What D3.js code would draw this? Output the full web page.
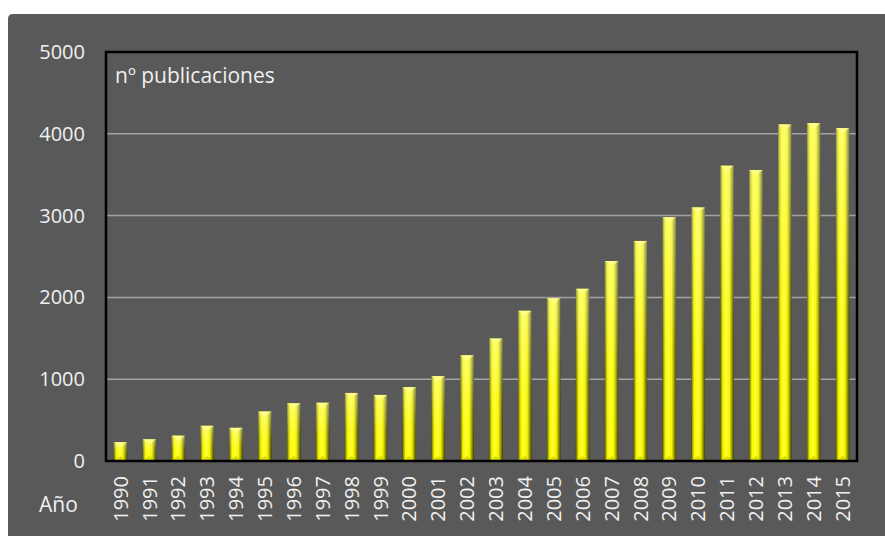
<!DOCTYPE html>
<html>
<head>
<meta charset="utf-8">
<script src="https://cdnjs.cloudflare.com/ajax/libs/d3/7.8.5/d3.min.js"></script>
<style>
  body { margin: 0; background: #ffffff; }
  svg text { font-family: "Open Sans", "Noto Sans", sans-serif; fill: #f0f0f0; }
</style>
</head>
<body>
<div id="chart"></div>
<script>
// data
var years = ["1990","1991","1992","1993","1994","1995","1996","1997","1998","1999",
             "2000","2001","2002","2003","2004","2005","2006","2007","2008","2009",
             "2010","2011","2012","2013","2014","2015"];
var publicaciones = [230, 265, 310, 430, 405, 605, 705, 712, 832, 808,
                     903, 1037, 1293, 1497, 1836, 1990, 2105, 2445, 2690, 2980,
                     3100, 3610, 3558, 4115, 4130, 4070];
var yTicks = [0, 1000, 2000, 3000, 4000, 5000];

var W = 885, H = 536;
var margin = {top: 52, right: 28, bottom: 75, left: 106},
    width = W - margin.left - margin.right,
    height = H - margin.top - margin.bottom;

var svg = d3.select("#chart").append("svg")
    .attr("width", W)
    .attr("height", H);

var defs = svg.append("defs");

// horizontal shading of a bar (dark sides, bright middle)
var hg = defs.append("linearGradient").attr("id", "barH")
    .attr("x1", "0%").attr("x2", "100%").attr("y1", "0%").attr("y2", "0%");
[[0, "#505000"], [0.1, "#b0b000"], [0.22, "#f8f800"], [0.45, "#ffff28"],
 [0.68, "#f4f400"], [0.84, "#a0a000"], [1, "#404000"]].forEach(function(s) {
  hg.append("stop").attr("offset", s[0]).attr("stop-color", s[1]);
});

// paler towards the top
var vg = defs.append("linearGradient").attr("id", "barV")
    .attr("x1", "0%").attr("x2", "0%").attr("y1", "0%").attr("y2", "100%");
vg.append("stop").attr("offset", 0).attr("stop-color", "#ffffff").attr("stop-opacity", 0.33);
vg.append("stop").attr("offset", 0.55).attr("stop-color", "#ffffff").attr("stop-opacity", 0.06);
vg.append("stop").attr("offset", 1).attr("stop-color", "#ffffff").attr("stop-opacity", 0);

// background panel
svg.append("path")
    .attr("d", "M8," + (H) + " L8,19 Q8,14 13,14 L" + W + ",14 L" + W + "," + H + " Z")
    .attr("fill", "#595959");

var g = svg.append("g")
    .attr("transform", "translate(" + margin.left + "," + margin.top + ")");

var x = d3.scaleBand()
    .domain(years)
    .range([0, width])
    .paddingInner(0.53)
    .paddingOuter(0.265);

var y = d3.scaleLinear()
    .domain([0, 5000])
    .range([height, 0]);

// gridlines
g.append("g")
  .selectAll("line")
  .data(yTicks.filter(function(d) { return d > 0 && d < 5000; }))
  .enter().append("line")
    .attr("x1", 0).attr("x2", width)
    .attr("y1", function(d) { return y(d); })
    .attr("y2", function(d) { return y(d); })
    .attr("stroke", "#a3a3a3")
    .attr("stroke-width", 1.5);

// y axis labels
var yAxis = g.append("g")
    .call(d3.axisLeft(y).tickValues(yTicks).tickFormat(d3.format("d")).tickSize(0).tickPadding(21));
yAxis.select(".domain").remove();
yAxis.selectAll("text")
    .style("font-size", "20px")
    .attr("fill", "#f0f0f0");

// x axis labels (rotated)
var xAxis = g.append("g")
    .attr("transform", "translate(0," + height + ")")
    .call(d3.axisBottom(x).tickSize(0));
xAxis.select(".domain").remove();
xAxis.selectAll("text")
    .style("font-size", "20px")
    .attr("fill", "#f0f0f0")
    .attr("transform", "rotate(-90)")
    .attr("text-anchor", "end")
    .attr("x", -15)
    .attr("y", 0)
    .attr("dy", "0.36em");

// bars
var bars = g.append("g").selectAll("g.bar")
    .data(years.map(function(d, i) { return {year: d, value: publicaciones[i]}; }))
  .enter().append("g").attr("class", "bar");

bars.append("rect")
    .attr("x", function(d) { return x(d.year); })
    .attr("y", function(d) { return y(d.value); })
    .attr("width", x.bandwidth())
    .attr("height", function(d) { return height - y(d.value); })
    .attr("fill", "url(#barH)");

bars.append("rect")
    .attr("x", function(d) { return x(d.year); })
    .attr("y", function(d) { return y(d.value); })
    .attr("width", x.bandwidth())
    .attr("height", function(d) { return height - y(d.value); })
    .attr("fill", "url(#barV)");

// bevelled top cap and bottom edge
var bev = 4;
bars.append("path")
    .attr("d", function(d) {
      var x0 = x(d.year), x1 = x0 + x.bandwidth(), y0 = y(d.value), xm = (x0 + x1) / 2;
      return "M" + x0 + "," + y0 + "L" + x1 + "," + y0 + "L" + xm + "," + (y0 + bev + 1) + "Z";
    })
    .attr("fill", "#ffff90")
    .attr("opacity", 0.8);
bars.append("path")
    .attr("d", function(d) {
      var x0 = x(d.year), x1 = x0 + x.bandwidth(), xm = (x0 + x1) / 2;
      return "M" + x0 + "," + height + "L" + x1 + "," + height + "L" + xm + "," + (height - bev - 1) + "Z";
    })
    .attr("fill", "#c8c800")
    .attr("opacity", 0.6);

// plot frame
g.append("rect")
    .attr("x", 0).attr("y", 0)
    .attr("width", width).attr("height", height)
    .attr("fill", "none")
    .attr("stroke", "#000")
    .attr("stroke-width", 2.5);

// texts
g.append("text")
    .attr("x", 9)
    .attr("y", 31)
    .style("font-size", "21px")
    .attr("fill", "#f0f0f0")
    .text("nº publicaciones");

svg.append("text")
    .attr("x", 39)
    .attr("y", 512)
    .style("font-size", "21px")
    .attr("fill", "#f0f0f0")
    .text("Año");
</script>
</body>
</html>
